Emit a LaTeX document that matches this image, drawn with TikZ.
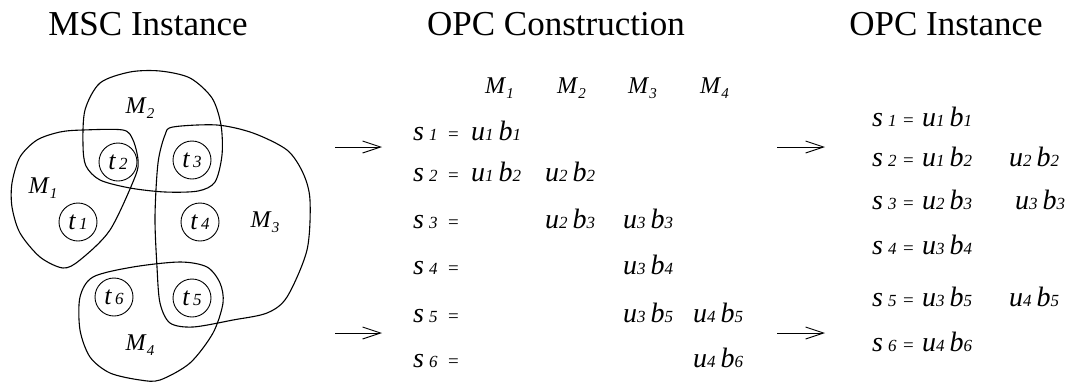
\documentclass[tikz,border=0pt]{standalone}
\usepackage{fontspec}
\setmainfont{Liberation Serif}
\usetikzlibrary{arrows.meta}
\newcommand{\dg}[1]{{\fontsize{17}{17}\selectfont\itshape #1}}
\newcommand{\lowdg}[1]{\raisebox{-5pt}{\fontsize{15}{15}\selectfont\itshape #1}}
\newcommand{\rowlab}[1]{\textit{s}\hspace{5pt}\dg{#1}}
\newcommand{\eqsign}{{\fontsize{19}{19}\selectfont\upshape =}}
\newcommand{\ub}[2]{\textit{u}\dg{#1}\hspace{5pt}\textit{b}\dg{#2}}
\newcommand{\tlab}[1]{\textit{t}\hspace{3pt}{\fontsize{17}{17}\selectfont\itshape #1}}
\newcommand{\mlab}[1]{\textit{M}\lowdg{#1}}
\begin{document}
\begin{tikzpicture}[x=1pt,y=-1pt,
  title/.style={inner sep=0pt, anchor=base, font=\fontsize{35}{35}\selectfont},
  blob/.style={draw, line width=1.1pt},
  tnode/.style={circle, draw, line width=0.9pt, minimum size=38pt, inner sep=0pt, font=\fontsize{26}{26}\selectfont},
  blab/.style={inner sep=0pt, font=\fontsize{24}{24}\selectfont},
  hdr/.style={inner sep=0pt, anchor=base west, font=\fontsize{24}{24}\selectfont},
  cell/.style={inner sep=0pt, anchor=base west, font=\fontsize{28}{28}\selectfont\itshape},
  conn/.style={line width=0.9pt, -{Straight Barb[length=18pt,width=12pt]}}
]
\useasboundingbox (0,0) rectangle (1065,381);
% titles
\node[title] (ttl1) at (148,35) {MSC Instance};
\node[title] (ttl2) at (556,35) {OPC Construction};
\node[title] (ttl3) at (946,35) {OPC Instance};
% blobs
\draw[blob] plot[smooth cycle] coordinates {(83,145) (85,110) (100,83) (130,72) (160,71) (190,78) (212,98) (221,125) (222,155) (215,182) (198,191) (165,192) (130,188) (100,180) (86,166)};
\draw[blob] plot[smooth cycle] coordinates {(83,130) (123,130) (133,140) (138,160) (135,177) (110,230) (80,260) (63,268) (40,257) (20,233) (12,207) (12,183) (20,157) (37,140) (60,132)};
\draw[blob] plot[smooth cycle] coordinates {(173,127) (217,125) (253,133) (287,150) (303,173) (310,200) (307,250) (287,297) (267,313) (233,320) (193,327) (170,323) (160,303) (157,267) (155,217) (158,163) (165,135)};
\draw[blob] plot[smooth cycle] coordinates {(93,277) (133,267) (180,262) (207,267) (220,283) (223,303) (213,333) (190,363) (160,380) (140,380) (110,373) (90,357) (80,330) (80,297)};
% circles
\node[tnode] (t1) at (78,222) {\tlab{1}};
\node[tnode] (t2) at (118,162) {\tlab{2}};
\node[tnode] (t3) at (192,160) {\tlab{3}};
\node[tnode] (t4) at (200,222) {\tlab{4}};
\node[tnode] (t5) at (192,298) {\tlab{5}};
\node[tnode] (t6) at (114,297) {\tlab{6}};
\node[blab] (lM1) at (43,188) {\mlab{1}};
\node[blab] (lM2) at (140,108) {\mlab{2}};
\node[blab] (lM3) at (265,222) {\mlab{3}};
\node[blab] (lM4) at (140,345) {\mlab{4}};
% arrows
\coordinate (a1s) at (335,147); \coordinate (a1e) at (382,147);
\coordinate (a2s) at (335,333); \coordinate (a2e) at (382,333);
\coordinate (a3s) at (777,147); \coordinate (a3e) at (825,147);
\coordinate (a4s) at (777,333); \coordinate (a4e) at (825,333);
\draw[conn] (a1s) -- (a1e);
\draw[conn] (a2s) -- (a2e);
\draw[conn] (a3s) -- (a3e);
\draw[conn] (a4s) -- (a4e);
% construction header
\node[hdr] (h1) at (485,93) {\mlab{1}};
\node[hdr] (h2) at (557,93) {\mlab{2}};
\node[hdr] (h3) at (628,93) {\mlab{3}};
\node[hdr] (h4) at (700,93) {\mlab{4}};
% construction rows
\node[cell] (cs1) at (413,140) {\rowlab{1}};
\node[cell] (ce1) at (448,140) {\eqsign};
\node[cell] (c11) at (471,140) {\ub{1}{1}};
\node[cell] (cs2) at (413,181) {\rowlab{2}};
\node[cell] (ce2) at (448,181) {\eqsign};
\node[cell] (c21) at (471,181) {\ub{1}{2}};
\node[cell] (c22) at (545,181) {\ub{2}{2}};
\node[cell] (cs3) at (413,228) {\rowlab{3}};
\node[cell] (ce3) at (448,228) {\eqsign};
\node[cell] (c32) at (545,228) {\ub{2}{3}};
\node[cell] (c33) at (623,228) {\ub{3}{3}};
\node[cell] (cs4) at (413,274) {\rowlab{4}};
\node[cell] (ce4) at (448,274) {\eqsign};
\node[cell] (c43) at (623,274) {\ub{3}{4}};
\node[cell] (cs5) at (413,322) {\rowlab{5}};
\node[cell] (ce5) at (448,322) {\eqsign};
\node[cell] (c53) at (623,322) {\ub{3}{5}};
\node[cell] (c54) at (693,322) {\ub{4}{5}};
\node[cell] (cs6) at (413,367) {\rowlab{6}};
\node[cell] (ce6) at (448,367) {\eqsign};
\node[cell] (c64) at (693,367) {\ub{4}{6}};
% instance rows
\node[cell] (is1) at (872,126) {\rowlab{1}};
\node[cell] (ie1) at (903,126) {\eqsign};
\node[cell] (i11) at (922,126) {\ub{1}{1}};
\node[cell] (is2) at (872,166) {\rowlab{2}};
\node[cell] (ie2) at (903,166) {\eqsign};
\node[cell] (i21) at (922,166) {\ub{1}{2}};
\node[cell] (i22) at (1009,166) {\ub{2}{2}};
\node[cell] (is3) at (872,209) {\rowlab{3}};
\node[cell] (ie3) at (903,209) {\eqsign};
\node[cell] (i31) at (922,209) {\ub{2}{3}};
\node[cell] (i32) at (1015,209) {\ub{3}{3}};
\node[cell] (is4) at (872,254) {\rowlab{4}};
\node[cell] (ie4) at (903,254) {\eqsign};
\node[cell] (i41) at (922,254) {\ub{3}{4}};
\node[cell] (is5) at (872,306) {\rowlab{5}};
\node[cell] (ie5) at (903,306) {\eqsign};
\node[cell] (i51) at (922,306) {\ub{3}{5}};
\node[cell] (i52) at (1009,306) {\ub{4}{5}};
\node[cell] (is6) at (872,351) {\rowlab{6}};
\node[cell] (ie6) at (903,351) {\eqsign};
\node[cell] (i61) at (922,351) {\ub{4}{6}};
\end{tikzpicture}
\end{document}
